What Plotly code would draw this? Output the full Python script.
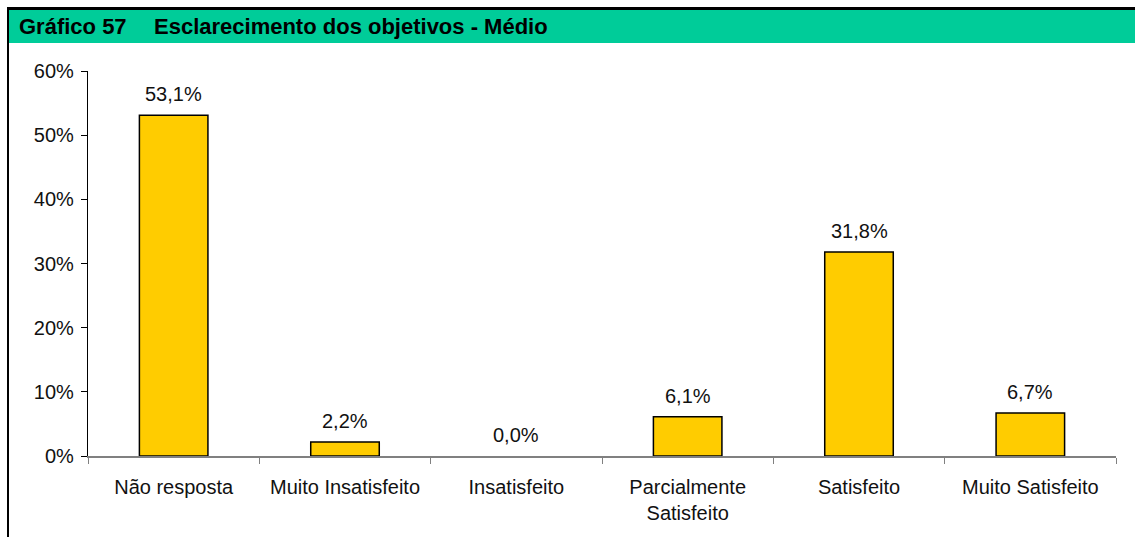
import plotly.graph_objects as go

# Survey response categories and their shares (%)
categories = ["Não resposta", "Muito Insatisfeito", "Insatisfeito",
              "Parcialmente<br>Satisfeito", "Satisfeito", "Muito Satisfeito"]
shares = [53.1, 2.2, 0.0, 6.1, 31.8, 6.7]
y_ticks = [0, 10, 20, 30, 40, 50, 60]
y_tick_labels = ["0%", "10%", "20%", "30%", "40%", "50%", "60%"]

W, H = 1135, 537
L, R, T, B = 88, 1116, 71, 456  # plot area in pixels


def px_x(x):
    return (x - L) / (R - L)


def px_y(y):
    return (B - y) / (B - T)


FONT = "Liberation Sans, Arial, sans-serif"

# empty bars get no outline
outline_widths = [1.5 if v > 0 else 0 for v in shares]

fig = go.Figure(go.Bar(
    x=categories,
    y=shares,
    width=0.4,
    marker=dict(color="#FFCC00", line=dict(color="#000000", width=outline_widths)),
    hoverinfo="x+y",
    cliponaxis=False,
))

shapes = [
    # header band
    dict(type="rect", xref="paper", yref="paper",
         x0=px_x(9), x1=px_x(W + 5), y0=px_y(43), y1=px_y(9),
         fillcolor="#00CC99", line=dict(width=0), layer="below"),
    # top rule
    dict(type="line", xref="paper", yref="paper",
         x0=px_x(7), x1=px_x(W + 5), y0=px_y(8.5), y1=px_y(8.5),
         line=dict(color="#000000", width=3)),
    # left rule
    dict(type="line", xref="paper", yref="paper",
         x0=px_x(8), x1=px_x(8), y0=px_y(7), y1=px_y(H + 5),
         line=dict(color="#000000", width=2)),
]

annotations = [
    dict(text="<b>Gráfico 57</b>", xref="paper", yref="paper",
         x=px_x(17), y=px_y(27), xanchor="left", yanchor="middle",
         showarrow=False, font=dict(family=FONT, size=22, color="#000000")),
    dict(text="<b>Esclarecimento dos objetivos - Médio</b>", xref="paper", yref="paper",
         x=px_x(152), y=px_y(27), xanchor="left", yanchor="middle",
         showarrow=False, font=dict(family=FONT, size=22, color="#000000")),
]

# value labels sitting above each bar
for cat, val in zip(categories, shares):
    annotations.append(dict(
        x=cat, y=val, xref="x", yref="y",
        text=f"{val:.1f}%".replace(".", ","),
        xanchor="center", yanchor="middle", yshift=21,
        showarrow=False, font=dict(family=FONT, size=20, color="#111111"),
    ))

fig.update_layout(
    width=W, height=H,
    margin=dict(l=L, r=W - R, t=T, b=H - B, pad=0),
    paper_bgcolor="#FFFFFF", plot_bgcolor="#FFFFFF",
    separators=",.",
    showlegend=False,
    shapes=shapes,
    annotations=annotations,
    xaxis=dict(
        showline=True, linecolor="#808080", linewidth=1.5,
        ticks="outside", tickson="boundaries", ticklen=6, tickcolor="#808080",
        ticklabelstandoff=12,
        tickfont=dict(family=FONT, size=20, color="#111111"),
        showgrid=False, zeroline=False,
    ),
    yaxis=dict(
        range=[0, 60], tickvals=y_ticks, ticktext=y_tick_labels,
        showline=True, linecolor="#000000", linewidth=1.2,
        ticks="outside", ticklen=6, tickcolor="#000000",
        ticklabelstandoff=3,
        tickfont=dict(family=FONT, size=20, color="#111111"),
        showgrid=False, zeroline=False,
    ),
)

fig.write_html("out.html")
